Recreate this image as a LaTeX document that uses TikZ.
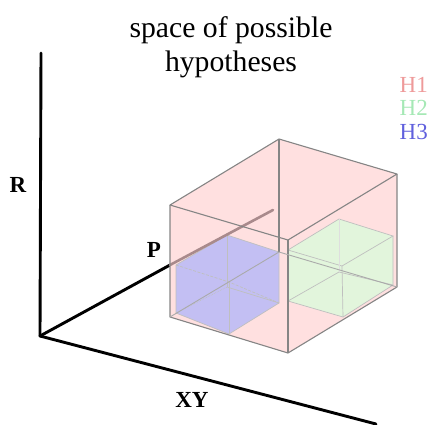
\documentclass[tikz,border=0pt]{standalone}
\usepackage{fontspec}
\setmainfont{Liberation Serif}
\definecolor{pinkf}{HTML}{FFE0E0}
\definecolor{bluef}{HTML}{C3BFF3}
\definecolor{greenf}{HTML}{E2F5DC}
\definecolor{edgeg}{HTML}{858585}
\definecolor{rodc}{HTML}{A98A8C}
\definecolor{hone}{HTML}{EE9A9A}
\definecolor{htwo}{HTML}{A5E8B5}
\definecolor{hthree}{HTML}{6060DD}
\tikzset{
  axisline/.style={line width=2.9pt,black,line cap=round},
  outeredge/.style={draw=edgeg,line width=1.1pt,line join=round},
  inneredge/.style={draw=black!25,line width=0.7pt},
  innerfaint/.style={draw=black!13,line width=0.9pt},
  bold lbl/.style={font=\fontsize{23}{24}\selectfont\bfseries,inner sep=0pt},
  hlbl/.style={font=\fontsize{23}{24}\selectfont,inner sep=0pt},
  title lbl/.style={font=\fontsize{29.7}{34}\selectfont,align=center,inner sep=0pt}
}
\begin{document}
\begin{tikzpicture}[x=1pt,y=-1pt]
\useasboundingbox (0,0) rectangle (429,424);
% axes
\coordinate (O) at (40,336);
\coordinate (Rt) at (41,53);
\coordinate (Xe) at (376,424);
\coordinate (Pin) at (170,265);
\coordinate (Pe) at (273,210);
\draw[axisline] (O) -- (Rt);
\draw[axisline] (O) -- (Xe);
\draw[axisline] (O) -- (Pin);
% outer box vertices
\coordinate (a) at (170,205);
\coordinate (b) at (288,240);
\coordinate (c) at (397,174);
\coordinate (d) at (279,139);
\coordinate (e) at (170,317);
\coordinate (f) at (288,353);
\coordinate (g) at (397,287);
\coordinate (h) at (279,252);
\fill[pinkf] (a) -- (d) -- (c) -- (g) -- (f) -- (e) -- cycle;
% blue box
\coordinate (bl) at (176,265);
\coordinate (bb) at (227,235);
\coordinate (br) at (279,252);
\coordinate (bf) at (229,282);
\coordinate (blb) at (176,313);
\coordinate (bbb) at (227,287);
\coordinate (brb) at (279,303);
\coordinate (bfb) at (229,334);
\fill[bluef] (bl) -- (bb) -- (br) -- (brb) -- (bfb) -- (blb) -- cycle;
\draw[inneredge,dash pattern=on 3pt off 1.5pt] (bl) -- (bf) -- (brb);
\draw[inneredge] (bb) -- (bbb);
\draw[inneredge] (bf) -- (bfb);
\draw[inneredge] (bl) -- (blb) -- (bfb) -- (brb) -- (br) -- (bb) -- (bl);
\draw[inneredge,densely dotted] (blb) -- (bbb);
\draw[inneredge] (bbb) -- (brb);
% green box
\coordinate (gl) at (288,250);
\coordinate (gb) at (339,219);
\coordinate (gr) at (393,236);
\coordinate (gf) at (342,266);
\coordinate (glb) at (288,301);
\coordinate (gbb) at (339,272);
\coordinate (grb) at (393,285);
\coordinate (gfb) at (343,317);
\fill[greenf] (gl) -- (gb) -- (gr) -- (grb) -- (gfb) -- (glb) -- cycle;
\draw[inneredge] (gl) -- (gb) -- (gr) -- (gf) -- cycle;
\draw[inneredge] (glb) -- (gfb) -- (grb) -- (gr);
\draw[inneredge] (glb) -- (gbb) -- (grb);
\draw[inneredge] (gf) -- (gfb);
\draw[innerfaint] (gb) -- (gbb);
\draw[inneredge] (gl) -- (glb);
% rod
\draw[rodc,line width=2.6pt,line cap=round] (Pin) -- (Pe);
% outer box edges
\draw[outeredge] (a) -- (b) -- (c) -- (d) -- cycle;
\draw[outeredge] (b) -- (f);
\draw[outeredge] (a) -- (e) -- (f) -- (g) -- (c);
\draw[outeredge] (d) -- (h);
\draw[draw=edgeg!70,line width=0.9pt] (e) -- (h) -- (g);
% labels
\node[title lbl] (title) at (231,47) {space of possible\\hypotheses};
\node[hlbl,text=hone,anchor=east] (h1) at (428,85) {H1};
\node[hlbl,text=htwo,anchor=east] (h2) at (428,108) {H2};
\node[hlbl,text=hthree,anchor=east] (h3) at (428,132) {H3};
\node[bold lbl] (rl) at (18,185) {R};
\node[bold lbl] (pl) at (154,250) {P};
\node[bold lbl] (xyl) at (192,400) {XY};
\end{tikzpicture}
\end{document}
